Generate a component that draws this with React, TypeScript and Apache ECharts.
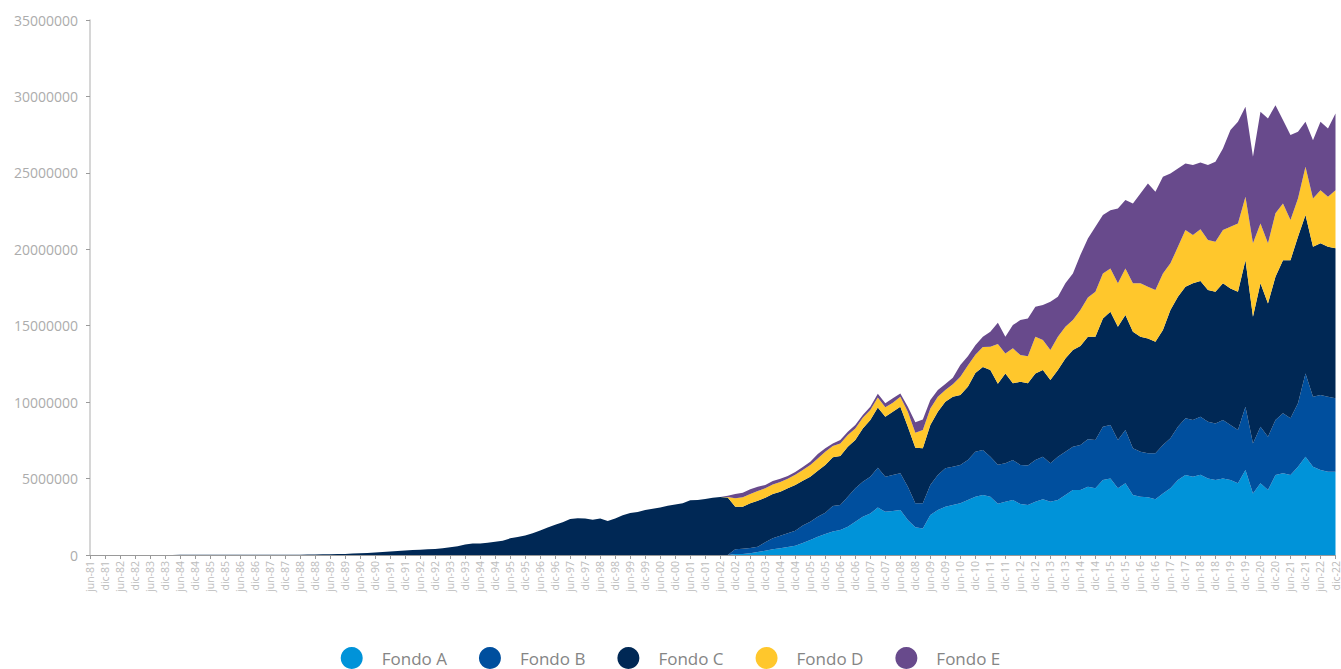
import React, { useEffect, useRef } from "react";
import * as echarts from "echarts";

// Quarterly categories: jun-81 ... dic-22 (labels shown every 6 months)
const MONTHS = ["mar", "jun", "sep", "dic"];
const FIRST_YEAR = 1981;
const LAST_YEAR = 2022;
const categories: string[] = [];
for (let y = FIRST_YEAR; y <= LAST_YEAR; y++) {
  for (let q = 0; q < 4; q++) {
    if (y === FIRST_YEAR && q === 0) continue;
    categories.push(`${MONTHS[q]}-${String(y).slice(2)}`);
  }
}

const Y_TICKS = [0, 5000000, 10000000, 15000000, 20000000, 25000000, 30000000, 35000000];

// Values, one row per year (1981 starts in jun).
// Funds A, B, D and E are 0 before the multifund system (1981-2001: 3 + 80 quarters).
const fondoA = [
  0, 0, 0,
  0, 0, 0, 0, 0, 0, 0, 0, 0, 0, 0, 0, 0, 0, 0, 0, 0, 0, 0, 0,
  0, 0, 0, 0, 0, 0, 0, 0, 0, 0, 0, 0, 0, 0, 0, 0, 0, 0, 0, 0,
  0, 0, 0, 0, 0, 0, 0, 0, 0, 0, 0, 0, 0, 0, 0, 0, 0, 0, 0, 0,
  0, 0, 0, 0, 0, 0, 0, 0, 0, 0, 0, 0, 0, 0, 0, 0, 0, 0, 0, 0,
  0, 0, 0, 60000,
  70000, 110000, 200000, 280000,
  370000, 440000, 520000, 610000,
  780000, 980000, 1200000, 1370000,
  1530000, 1640000, 1850000, 2180000,
  2500000, 2720000, 3100000, 2830000,
  2880000, 2940000, 2290000, 1810000,
  1740000, 2620000, 2940000, 3160000,
  3270000, 3380000, 3600000, 3810000,
  3920000, 3810000, 3350000, 3490000,
  3600000, 3340000, 3270000, 3490000,
  3640000, 3490000, 3600000, 3920000,
  4250000, 4250000, 4470000, 4360000,
  4900000, 5010000, 4360000, 4690000,
  3920000, 3810000, 3770000, 3640000,
  4030000, 4360000, 4900000, 5230000,
  5120000, 5250000, 5010000, 4900000,
  5010000, 4900000, 4690000, 5560000,
  4030000, 4690000, 4250000, 5230000,
  5340000, 5230000, 5780000, 6430000,
  5780000, 5560000, 5450000, 5450000,
];

const fondoB = [
  0, 0, 0,
  0, 0, 0, 0, 0, 0, 0, 0, 0, 0, 0, 0, 0, 0, 0, 0, 0, 0, 0, 0,
  0, 0, 0, 0, 0, 0, 0, 0, 0, 0, 0, 0, 0, 0, 0, 0, 0, 0, 0, 0,
  0, 0, 0, 0, 0, 0, 0, 0, 0, 0, 0, 0, 0, 0, 0, 0, 0, 0, 0, 0,
  0, 0, 0, 0, 0, 0, 0, 0, 0, 0, 0, 0, 0, 0, 0, 0, 0, 0, 0, 0,
  0, 0, 0, 310000,
  340000, 350000, 340000, 550000,
  720000, 820000, 900000, 980000,
  1150000, 1200000, 1310000, 1400000,
  1670000, 1630000, 1960000, 2180000,
  2300000, 2400000, 2600000, 2290000,
  2350000, 2400000, 2180000, 1570000,
  1640000, 1960000, 2290000, 2510000,
  2510000, 2510000, 2610000, 2950000,
  2950000, 2620000, 2550000, 2510000,
  2610000, 2550000, 2580000, 2720000,
  2790000, 2510000, 2830000, 2840000,
  2830000, 2940000, 3110000, 3160000,
  3490000, 3490000, 3160000, 3490000,
  3060000, 2950000, 2880000, 3010000,
  3160000, 3270000, 3490000, 3710000,
  3710000, 3800000, 3710000, 3710000,
  3820000, 3600000, 3490000, 4140000,
  3270000, 3700000, 3490000, 3600000,
  3930000, 3710000, 4140000, 5450000,
  4570000, 4900000, 4900000, 4800000,
];

const fondoC = [
  2000, 2000, 3000,
  3000, 4000, 4000, 5000,
  6000, 6000, 7000, 8000,
  8000, 9000, 10000, 10000,
  11000, 12000, 12000, 13000,
  14000, 14000, 15000, 16000,
  16000, 17000, 18000, 19000,
  19000, 20000, 30000, 40000,
  50000, 50000, 60000, 70000,
  90000, 110000, 130000, 160000,
  200000, 230000, 260000, 290000,
  320000, 350000, 370000, 400000,
  440000, 500000, 570000, 680000,
  750000, 760000, 800000, 860000,
  930000, 1090000, 1170000, 1280000,
  1430000, 1600000, 1800000, 1980000,
  2150000, 2350000, 2400000, 2380000,
  2300000, 2380000, 2220000, 2380000,
  2600000, 2740000, 2820000, 2950000,
  3020000, 3100000, 3220000, 3300000,
  3380000, 3580000, 3600000, 3660000,
  3750000, 3800000, 3760000, 2790000,
  2750000, 2920000, 3010000, 2920000,
  2900000, 2880000, 2940000, 2990000,
  2930000, 2940000, 3000000, 3120000,
  3190000, 3200000, 3270000, 3160000,
  3480000, 3710000, 3950000, 3930000,
  4140000, 4360000, 3920000, 3640000,
  3600000, 3920000, 4140000, 4360000,
  4570000, 4570000, 4790000, 5140000,
  5430000, 5670000, 5300000, 5880000,
  5020000, 5450000, 5380000, 5670000,
  5670000, 5450000, 5670000, 6100000,
  6330000, 6490000, 6700000, 6760000,
  7090000, 7410000, 7410000, 7520000,
  7620000, 7520000, 7520000, 7300000,
  7530000, 8390000, 8510000, 8610000,
  8940000, 8880000, 8610000, 8610000,
  8940000, 8940000, 9040000, 9590000,
  8290000, 9380000, 8720000, 9370000,
  10020000, 10350000, 10900000, 10360000,
  9810000, 9930000, 9810000, 9810000,
];

const fondoD = [
  0, 0, 0,
  0, 0, 0, 0, 0, 0, 0, 0, 0, 0, 0, 0, 0, 0, 0, 0, 0, 0, 0, 0,
  0, 0, 0, 0, 0, 0, 0, 0, 0, 0, 0, 0, 0, 0, 0, 0, 0, 0, 0, 0,
  0, 0, 0, 0, 0, 0, 0, 0, 0, 0, 0, 0, 0, 0, 0, 0, 0, 0, 0, 0,
  0, 0, 0, 0, 0, 0, 0, 0, 0, 0, 0, 0, 0, 0, 0, 0, 0, 0, 0, 0,
  0, 0, 30000, 550000,
  610000, 610000, 640000, 610000,
  630000, 630000, 630000, 670000,
  700000, 770000, 810000, 870000,
  740000, 830000, 770000, 760000,
  700000, 650000, 650000, 610000,
  590000, 650000, 980000, 980000,
  1200000, 1090000, 980000, 760000,
  820000, 1200000, 1400000, 1200000,
  1300000, 1530000, 2600000, 1310000,
  2290000, 1740000, 1770000, 2400000,
  1960000, 1960000, 2180000, 2070000,
  1960000, 2340000, 2560000, 2940000,
  2940000, 2840000, 2840000, 3050000,
  3170000, 3490000, 3380000, 3380000,
  3700000, 3060000, 3260000, 3710000,
  3160000, 3380000, 3270000, 3270000,
  3490000, 4030000, 4470000, 4140000,
  4800000, 3920000, 3930000, 4150000,
  3710000, 2620000, 2510000, 3160000,
  3170000, 3480000, 3270000, 3810000,
];

const fondoE = [
  0, 0, 0,
  0, 0, 0, 0, 0, 0, 0, 0, 0, 0, 0, 0, 0, 0, 0, 0, 0, 0, 0, 0,
  0, 0, 0, 0, 0, 0, 0, 0, 0, 0, 0, 0, 0, 0, 0, 0, 0, 0, 0, 0,
  0, 0, 0, 0, 0, 0, 0, 0, 0, 0, 0, 0, 0, 0, 0, 0, 0, 0, 0, 0,
  0, 0, 0, 0, 0, 0, 0, 0, 0, 0, 0, 0, 0, 0, 0, 0, 0, 0, 0, 0,
  0, 0, 80000, 280000,
  300000, 310000, 280000, 220000,
  220000, 220000, 180000, 180000,
  200000, 210000, 290000, 220000,
  170000, 220000, 220000, 220000,
  180000, 220000, 250000, 260000,
  290000, 220000, 330000, 680000,
  690000, 550000, 440000, 390000,
  430000, 770000, 600000, 630000,
  680000, 970000, 1400000, 1090000,
  1520000, 2290000, 2480000, 1960000,
  2290000, 3160000, 2620000, 2840000,
  3050000, 3600000, 3870000, 4250000,
  3820000, 3810000, 4900000, 4470000,
  5230000, 5880000, 6760000, 6430000,
  6320000, 5880000, 5130000, 4360000,
  4580000, 4360000, 4910000, 5230000,
  5340000, 6330000, 6650000, 5890000,
  5660000, 7300000, 8170000, 7080000,
  5450000, 5560000, 4360000, 2940000,
  3810000, 4470000, 4470000, 5020000,
];

const SERIES = [
  { name: "Fondo A", data: fondoA, color: "#0093D9" },
  { name: "Fondo B", data: fondoB, color: "#004F9E" },
  { name: "Fondo C", data: fondoC, color: "#002855" },
  { name: "Fondo D", data: fondoD, color: "#FFC72C" },
  { name: "Fondo E", data: fondoE, color: "#684A8C" },
];

const FONT = "'Open Sans', 'Noto Sans', sans-serif";

export default function App() {
  const ref = useRef<HTMLDivElement>(null);
  useEffect(() => {
    if (!ref.current) return;
    const chart = echarts.init(ref.current, null, { renderer: "svg" });
    chart.setOption({
      animation: false,
      backgroundColor: "#ffffff",
      grid: { left: 90, right: 3, top: 20, bottom: 114, containLabel: false },
      legend: {
        top: 647,
        left: "center",
        padding: 0,
        icon: "circle",
        itemWidth: 22,
        itemHeight: 22,
        itemGap: 32,
        textStyle: {
          color: "#858585",
          fontSize: 17,
          lineHeight: 18,
          fontFamily: FONT,
          padding: [0, 0, 0, 14],
        },
        data: SERIES.map((s) => s.name),
      },
      xAxis: {
        type: "category",
        boundaryGap: false,
        data: categories,
        axisLine: { lineStyle: { color: "#9a9a9a", width: 1 } },
        axisTick: {
          interval: 1,
          length: 4,
          lineStyle: { color: "#9a9a9a" },
        },
        axisLabel: {
          interval: 1,
          rotate: 90,
          color: "#bcbcbc",
          fontSize: 10.5,
          fontFamily: FONT,
          margin: 6,
        },
        splitLine: { show: false },
      },
      yAxis: {
        type: "value",
        min: Y_TICKS[0],
        max: Y_TICKS[Y_TICKS.length - 1],
        interval: Y_TICKS[1] - Y_TICKS[0],
        axisLine: { show: true, lineStyle: { color: "#c8c8c8", width: 1.5 } },
        axisTick: { show: true, length: 4, lineStyle: { color: "#9a9a9a" } },
        axisLabel: {
          color: "#acacac",
          fontSize: 14,
          fontFamily: FONT,
          margin: 12,
          formatter: (v: number) => String(v),
        },
        splitLine: { show: false },
      },
      series: SERIES.map((s) => ({
        name: s.name,
        type: "line",
        stack: "total",
        data: s.data,
        symbol: "none",
        showSymbol: false,
        smooth: false,
        color: s.color,
        lineStyle: { width: 0, color: s.color },
        areaStyle: { color: s.color, opacity: 1 },
        emphasis: { disabled: true },
      })),
    });
    return () => chart.dispose();
  }, []);
  return (
    <div
      ref={ref}
      style={{ position: "fixed", left: 0, top: 0, width: 1341, height: 669 }}
    />
  );
}
